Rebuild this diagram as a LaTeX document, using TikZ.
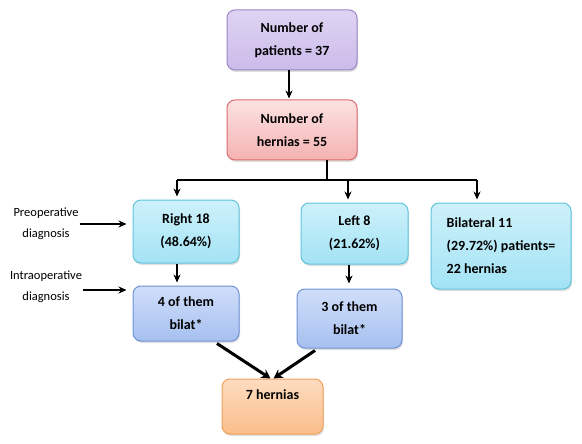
\documentclass[tikz,border=0pt]{standalone}
\usepackage{fontspec}
\setmainfont{Carlito}
\usetikzlibrary{arrows.meta,shadows,calc}
\definecolor{purT}{HTML}{DFD4F3}\definecolor{purB}{HTML}{CBBBEA}\definecolor{purD}{HTML}{9A86C9}
\definecolor{redT}{HTML}{FCE2E2}\definecolor{redB}{HTML}{F5B2B2}\definecolor{redD}{HTML}{D96B6B}
\definecolor{cyaT}{HTML}{CDF1FA}\definecolor{cyaB}{HTML}{A3E3F5}\definecolor{cyaD}{HTML}{5FC3DC}
\definecolor{bluT}{HTML}{D0DEFA}\definecolor{bluB}{HTML}{A6C0F0}\definecolor{bluD}{HTML}{6F93D6}
\definecolor{oraT}{HTML}{FDDCC0}\definecolor{oraB}{HTML}{FBBE8A}\definecolor{oraD}{HTML}{F2A05A}
\tikzset{
  box/.style={draw, line width=1pt, rounded corners=8pt, align=center,
    font=\bfseries\fontsize{14}{23}\selectfont,
    drop shadow={opacity=0.25, shadow xshift=1pt, shadow yshift=-2pt}},
  purbox/.style={box, draw=purD, top color=purT, bottom color=purB},
  redbox/.style={box, draw=redD, top color=redT, bottom color=redB},
  cyabox/.style={box, draw=cyaD, top color=cyaT, bottom color=cyaB},
  blubox/.style={box, draw=bluD, top color=bluT, bottom color=bluB},
  orabox/.style={box, draw=oraD, top color=oraT, bottom color=oraB},
  side/.style={align=center, inner sep=1pt, font=\fontsize{12.5}{21}\selectfont},
  conn/.style={line width=1.3pt},
  arr/.style={conn, -{Stealth[length=8pt,width=7pt]}},
  thick arr/.style={line width=3pt, -{Stealth[length=9pt,width=10pt]}}
}
\begin{document}
\begin{tikzpicture}[x=1pt,y=-1pt]
\useasboundingbox (0,0) rectangle (582,444);
\node[purbox, minimum width=130pt, minimum height=60pt] (pat) at (292,40) {Number of\\patients = 37};
\node[redbox, minimum width=130pt, minimum height=60pt] (hern) at (292,130) {Number of\\hernias = 55};
\node[cyabox, minimum width=106pt, minimum height=63pt] (right) at (186,231.5) {Right 18\\(48.64\%)};
\node[cyabox, minimum width=107pt, minimum height=61pt] (left) at (354.5,233.5) {Left 8\\(21.62\%)};
\node[cyabox, minimum width=140pt, minimum height=86pt, align=left] (bil) at (501,246) {Bilateral 11\\(29.72\%) patients=\\22 hernias};
\node[blubox, minimum width=106pt, minimum height=55pt] (sub1) at (186,313.5) {4 of them\\bilat*};
\node[blubox, minimum width=105pt, minimum height=59pt] (sub2) at (349.5,318.5) {3 of them\\bilat*};
\node[orabox, minimum width=101pt, minimum height=55pt] (seven) at (272.5,406.5) {7 hernias\\\mbox{}};
\node[side] (pre) at (46,224) {Preoperative\\diagnosis};
\node[side] (intra) at (46,287) {Intraoperative\\diagnosis};
\coordinate (j) at (327,180);
\coordinate (jr) at (177,180);
\coordinate (jl) at (348,180);
\coordinate (jb) at (477,180);
\draw[arr, shorten >=1pt] (pat.south -| 289,0) -- (hern.north -| 289,0);
\draw[conn] (hern.south -| j) -- (j);
\draw[conn] (jr) -- (jb);
\draw[arr, shorten >=3pt] (jr) -- (jr |- right.north);
\draw[arr, shorten >=3pt] (jl) -- (jl |- left.north);
\draw[arr, shorten >=3pt] (jb) -- (jb |- bil.north);
\draw[arr, shorten >=3pt] (right.south -| jr) -- (sub1.north -| jr);
\draw[arr, shorten >=5pt] ($(left.south -| jl)+(1,0)$) -- ($(sub2.north -| jl)+(1,0)$);
\draw[arr, shorten >=6pt] (pre.east) -- (pre.east -| right.west);
\draw[arr, shorten >=6pt] ([yshift=-3pt]intra.east) -- ([yshift=-3pt]intra.east -| sub1.west);
\draw[thick arr] ($(sub1.south)+(31,2)$) -- ([xshift=-2pt]seven.north);
\draw[thick arr] ($(sub2.south)+(-34.5,2)$) -- ([xshift=1pt]seven.north);
\end{tikzpicture}
\end{document}
